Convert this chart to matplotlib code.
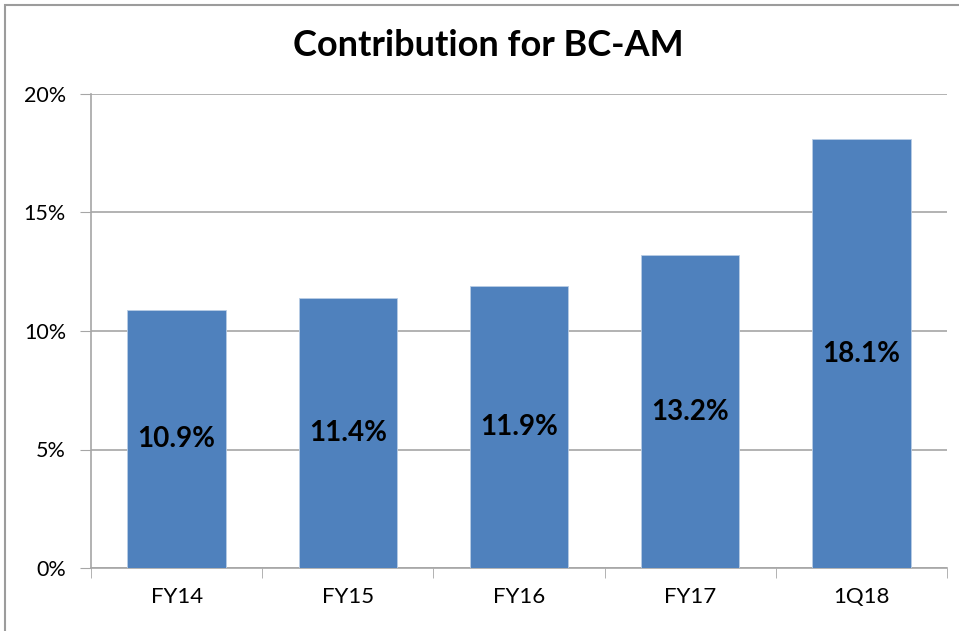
import numpy as np
import matplotlib.pyplot as plt
from matplotlib.patches import Rectangle
from matplotlib.ticker import FuncFormatter

plt.rcParams['font.family'] = ['Lato', 'DejaVu Sans']

categories = ['FY14', 'FY15', 'FY16', 'FY17', '1Q18']
values = [10.9, 11.4, 11.9, 13.2, 18.1]
y_ticks = [0, 5, 10, 15, 20]

bar_color = '#4F81BD'
grid_color = '#A6A6A6'

fig = plt.figure(figsize=(9.59, 6.31), dpi=100)
ax = fig.add_axes([91 / 959, 1 - 568 / 631, (947 - 91) / 959, (568 - 94) / 631])

x = np.arange(len(categories))
bars = ax.bar(x, values, width=0.575, color=bar_color, edgecolor='#B9CDE5', linewidth=0.6, zorder=3)

# labels sit in the middle of each bar
for b, v in zip(bars, values):
    ax.text(b.get_x() + b.get_width() / 2, v / 2, f'{v:.1f}%', ha='center', va='center',
            fontsize=20, fontweight='bold', color='black', zorder=4)

ax.set_xlim(-0.5, len(categories) - 0.5)
ax.set_ylim(0, 20)
ax.set_yticks(y_ticks)
ax.yaxis.set_major_formatter(FuncFormatter(lambda v, p: f'{v:.0f}%'))
ax.set_xticks(x)
ax.set_xticklabels(categories)
ax.set_xticks(np.arange(-0.5, len(categories)), minor=True)

ax.tick_params(axis='x', which='major', length=0, pad=14, labelsize=16)
ax.tick_params(axis='x', which='minor', length=7, color=grid_color, direction='out')
ax.tick_params(axis='y', length=8, color=grid_color, pad=10, labelsize=15.5)

ax.grid(axis='y', color=grid_color, linewidth=1.2, zorder=0)
for s in ['top', 'right']:
    ax.spines[s].set_visible(False)
for s in ['left', 'bottom']:
    ax.spines[s].set_color(grid_color)
    ax.spines[s].set_linewidth(1.2)

fig.text(488 / 959, 1 - 45 / 631, 'Contribution for BC-AM', ha='center', va='center',
         fontsize=26, fontweight='bold')

# chart frame, cut off at right and bottom as in the original
fig.patches.append(Rectangle((5 / 959, -0.1), 1.2, 1 - 5 / 631 + 0.1, transform=fig.transFigure,
                             fill=False, edgecolor='#9C9C9C', linewidth=1.5))

fig.savefig('out.png', dpi=100)
